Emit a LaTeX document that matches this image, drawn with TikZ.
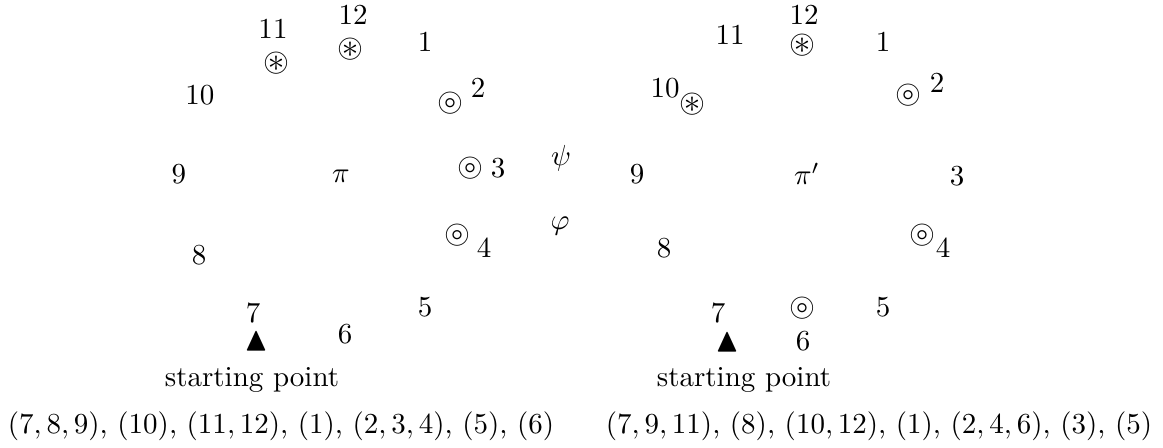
\documentclass[tikz,border=0pt]{standalone}
\usepackage{amssymb}
\usepackage{graphicx}
\newcommand{\symast}{\scalebox{1.15}{$\circledast$}}
\newcommand{\symcirc}{\scalebox{1.15}{$\circledcirc$}}
\newcommand{\symtri}{\scalebox{1.15}{$\blacktriangle$}}
\begin{document}
\begin{tikzpicture}[x=0.3448pt,y=-0.3448pt,
  lbl/.style={inner sep=0pt, anchor=center},
  txt/.style={inner sep=0pt, anchor=base}]
\useasboundingbox (0,0) rectangle (1163,448);
% ---------- left diagram ----------
\node[lbl] (l12) at (353,15) {12};
\node[lbl] (l11) at (273,29) {11};
\node[lbl] (l1) at (425,42) {1};
\node[lbl] (l10) at (200,95) {10};
\node[lbl] (l2) at (478,88) {2};
\node[lbl] (l9) at (179,174) {9};
\node[lbl] (lpi) at (341,176) {$\pi$};
\node[lbl] (l3) at (498,168) {3};
\node[lbl] (l4) at (484,248) {4};
\node[lbl] (l8) at (199,255) {8};
\node[lbl] (l7) at (253,313) {7};
\node[lbl] (l6) at (345,334) {6};
\node[lbl] (l5) at (425,307) {5};
\node[lbl] (lsA) at (276,63) {\symast};
\node[lbl] (lsB) at (350,49) {\symast};
\node[lbl] (lc2) at (450,103) {\symcirc};
\node[lbl] (lc3) at (470,168) {\symcirc};
\node[lbl] (lc4) at (457,235) {\symcirc};
\node[lbl] (ltri) at (257,341) {\symtri};
\node[txt] (lstart) at (252,387) {starting point};
\node[txt] (lseq) at (281,434) {$(7,8,9)$, $(10)$, $(11,12)$, $(1)$, $(2,3,4)$, $(5)$, $(6)$};
% ---------- maps ----------
\node[lbl] (psi) at (561,158) {$\psi$};
\node[lbl] (phi) at (560,226) {$\varphi$};
% ---------- right diagram ----------
\node[lbl] (r12) at (804,15) {12};
\node[lbl] (r11) at (730,35) {11};
\node[lbl] (r1) at (883,42) {1};
\node[lbl] (r10) at (665,88) {10};
\node[lbl] (r2) at (937,83) {2};
\node[lbl] (r9) at (637,174) {9};
\node[lbl] (rpi) at (807,174) {$\pi'$};
\node[lbl] (r3) at (957,176) {3};
\node[lbl] (r4) at (943,248) {4};
\node[lbl] (r8) at (664,248) {8};
\node[lbl] (r7) at (718,313) {7};
\node[lbl] (r6) at (803,341) {6};
\node[lbl] (r5) at (883,307) {5};
\node[lbl] (rsB) at (802,45) {\symast};
\node[lbl] (rsA) at (692,104) {\symast};
\node[lbl] (rc2) at (908,95) {\symcirc};
\node[lbl] (rc4) at (922,235) {\symcirc};
\node[lbl] (rc6) at (802,308) {\symcirc};
\node[lbl] (rtri) at (728,342) {\symtri};
\node[txt] (rstart) at (744,387) {starting point};
\node[txt] (rseq) at (879,434) {$(7,9,11)$, $(8)$, $(10,12)$, $(1)$, $(2,4,6)$, $(3)$, $(5)$};
\end{tikzpicture}
\end{document}
